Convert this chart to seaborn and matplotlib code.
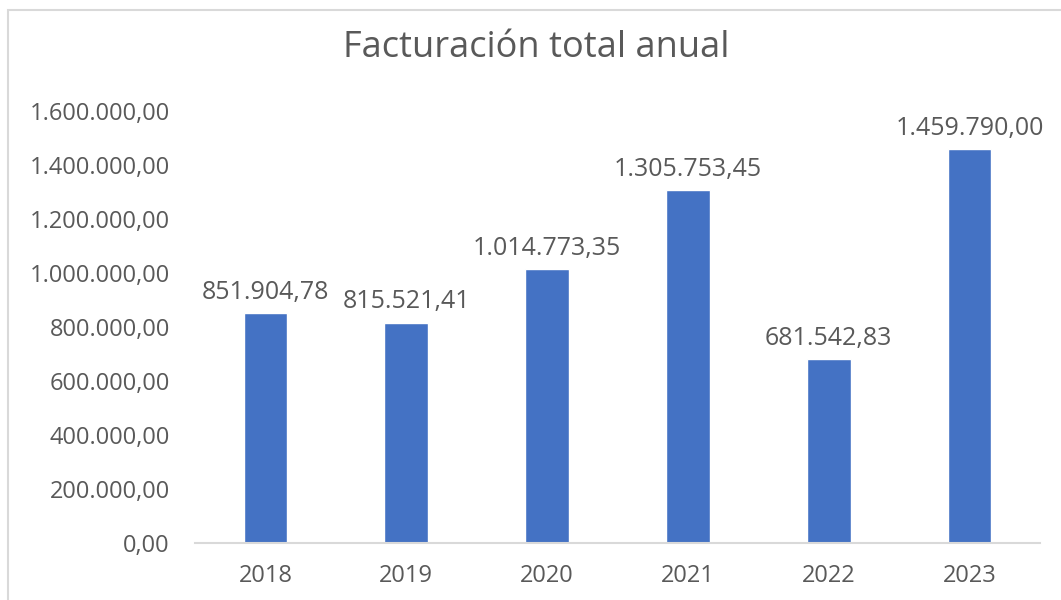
import matplotlib
matplotlib.use("Agg")
import matplotlib.pyplot as plt
import matplotlib.patches as mpatches
import seaborn as sns
import pandas as pd

# Facturación total por año
years = ["2018", "2019", "2020", "2021", "2022", "2023"]
revenue = [851904.78, 815521.41, 1014773.35, 1305753.45, 681542.83, 1459790.00]
y_ticks = [0, 200000, 400000, 600000, 800000, 1000000, 1200000, 1400000, 1600000]


def fmt_es(v):
    # formato español: punto para miles, coma para decimales
    s = f"{v:,.2f}"
    return s.replace(",", "X").replace(".", ",").replace("X", ".")


df = pd.DataFrame({"Año": years, "Facturación": revenue})

sns.set_style("white")
plt.rcParams["font.family"] = ["Open Sans", "DejaVu Sans"]
grey = "#595959"

fig = plt.figure(figsize=(10.61, 6), dpi=100)
ax = fig.add_axes([195 / 1061, 57 / 600, 845 / 1061, 432 / 600])

sns.barplot(data=df, x="Año", y="Facturación", color="#4472C4", width=0.31,
            saturation=1, ax=ax)

ax.bar_label(ax.containers[0], labels=[fmt_es(v) for v in revenue],
             padding=6, fontsize=18, color=grey)

ax.set_ylim(0, 1600000)
ax.set_yticks(y_ticks)
ax.set_yticklabels([fmt_es(v) for v in y_ticks])
ax.set_xlim(-0.5, len(years) - 0.5)

ax.set_xlabel("")
ax.set_ylabel("")
for s in ["top", "right", "left"]:
    ax.spines[s].set_visible(False)
ax.spines["bottom"].set_color("#D9D9D9")
ax.spines["bottom"].set_linewidth(1.5)

ax.tick_params(axis="y", length=0, labelsize=17, labelcolor=grey, pad=18)
ax.tick_params(axis="x", which="major", length=0, labelsize=17, labelcolor=grey, pad=15)
ax.set_xticks([i - 0.5 for i in range(len(years) + 1)], minor=True)
ax.tick_params(axis="x", which="minor", length=7, width=1.5, color="#D9D9D9")

fig.text(0.5056, 0.92, "Facturación total anual", ha="center", va="center",
         fontsize=26, color=grey)

# borde del gráfico
fig.patches.append(mpatches.Rectangle((8 / 1061, -0.1), 1.2, 0.1 + 1 - 10 / 600,
                                      transform=fig.transFigure, fill=False,
                                      edgecolor="#D9D9D9", linewidth=1.5))

fig.savefig("out.png", dpi=100)
